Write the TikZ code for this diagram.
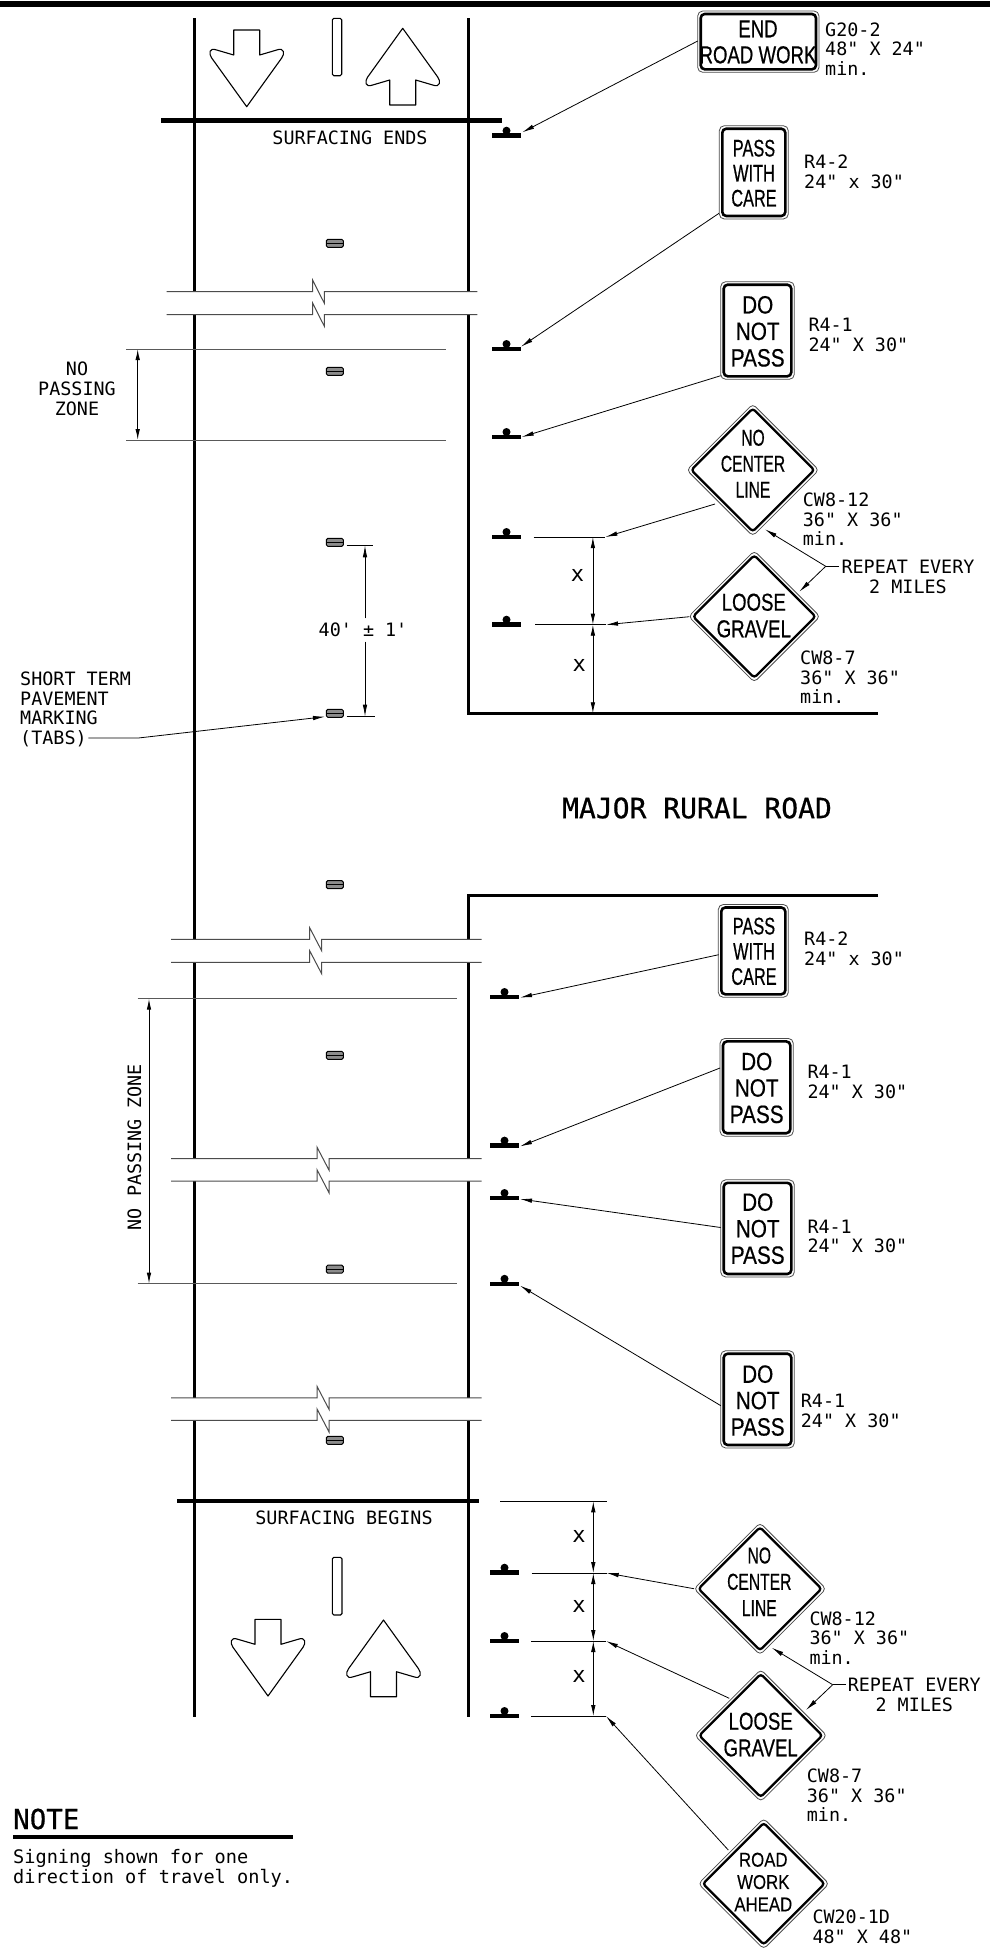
\documentclass[tikz,border=0pt]{standalone}
\usepackage{fontspec}
\usetikzlibrary{arrows.meta}
\newfontfamily\cadfont{DejaVu Sans Mono}
\newfontfamily\signN[FakeStretch=.68,FakeBold=.5]{Liberation Sans}
\newfontfamily\signM[FakeStretch=.76,FakeBold=.5]{Liberation Sans}
\newfontfamily\signW[FakeStretch=.83,FakeBold=.5]{Liberation Sans}
\newfontfamily\signT[FakeStretch=.84,FakeBold=.2]{Liberation Sans}
\newfontfamily\headfont[FakeBold=.6]{DejaVu Sans Mono}
\newcommand{\caprule}{\rule{0pt}{14pt}}
\newcommand{\signrule}{\rule{0pt}{20pt}}
\tikzset{
  road/.style={line width=3pt,black},
  endbar/.style={line width=4.5pt,black},
  brk/.style={line width=1pt,black!70,line join=miter},
  zone/.style={line width=1pt,black!65},
  thinln/.style={line width=.9pt,black},
  penmark/.style={line width=1.1pt,black},
  ar/.style={-{Latex[length=12pt,width=4.5pt]},line width=.8pt,black},
  dimline/.style={{Latex[length=11pt,width=4.5pt]}-{Latex[length=11pt,width=4.5pt]},line width=.8pt,black},
  lab/.style={inner sep=0pt,anchor=north west,align=left,yshift=7.3pt,font=\cadfont\fontsize{18.4}{19.4}\selectfont},
  labc/.style={inner sep=0pt,anchor=north,align=center,yshift=7.3pt,font=\cadfont\fontsize{18.4}{20}\selectfont},
  plain/.style={inner sep=0pt,font=\cadfont\fontsize{18.4}{20}\selectfont},
  xmark/.style={inner sep=0pt,font=\cadfont\fontsize{22}{24}\selectfont},
  signtext/.style={inner sep=0pt,anchor=north,align=center},
}
\newcommand{\post}[2]{%
  \draw[endbar] (#1-14.5,#2) -- (#1+14.5,#2);
  \fill[black] (#1,#2-5) circle (4pt);}
\newcommand{\pavetab}[1]{%
  \draw[line width=1pt,black,fill=black!45,rounded corners=1.5pt] (326.3,#1-4) rectangle (343.3,#1+4);
  \draw[line width=.8pt,black] (326.3,#1) -- (343.3,#1);}
\newcommand{\brkline}[5]{%
  \draw[brk] (#1,#5) -- (#2,#5) -- (#2,#5-11.5) -- (#3,#5+11.5) -- (#3,#5) -- (#4,#5);}
\newcommand{\rectsign}[4]{%
  \draw[line width=.8pt,black!70,rounded corners=5pt] (#1,#2) rectangle (#3,#4);
  \draw[line width=2.6pt,black,rounded corners=4pt] (#1+3,#2+3) rectangle (#3-3,#4-3);}
\newcommand{\diasign}[3]{%
  \draw[line width=.8pt,black!70,rounded corners=4pt] (#1,#2-#3) -- (#1+#3,#2) -- (#1,#2+#3) -- (#1-#3,#2) -- cycle;
  \draw[line width=2.3pt,black,rounded corners=3pt] (#1,#2-#3+4.5) -- (#1+#3-4.5,#2) -- (#1,#2+#3-4.5) -- (#1-#3+4.5,#2) -- cycle;}
\newcommand{\signlabel}[7]{%
  \node[signtext,yshift={(20-0.358*#3)*1pt},font=#2\fontsize{#3}{#4}\selectfont] (#1) at (#5,#6) {\signrule#7};}
\newcommand{\arrowshape}{%
  \draw[penmark,line join=round] (-13,0) -- (13,0) -- (13,25) -- (30,20) .. controls (38,17) and (38,24) .. (35,28)
     -- (0,76.7) -- (-35,28) .. controls (-38,24) and (-38,17) .. (-30,20) -- (-13,25) -- cycle;}
\begin{document}
\begin{tikzpicture}[x=1pt,y=-1pt]
\useasboundingbox (0,0) rectangle (990,1952);
\fill[white] (0,0) rectangle (990,1952);
\fill[black] (0,1) rectangle (990,7);

% road edges
\foreach \xx in {194.5,468} {
  \draw[road] (\xx,18) -- (\xx,291.7);
  \draw[road] (\xx,962.3) -- (\xx,1158.6);
  \draw[road] (\xx,1181.2) -- (\xx,1397.8);
  \draw[road] (\xx,1420.4) -- (\xx,1716.7);
}
\draw[road] (194.5,314.7) -- (194.5,939.3);
\draw[road,line join=miter] (468,314.7) -- (468,713.3) -- (878,713.3);
\draw[road,line join=miter] (878,895.5) -- (468,895.5) -- (468,939.3);

% end bars
\draw[endbar] (161,120.7) -- (502,120.7);
\draw[endbar,line width=4pt] (177.3,1500.7) -- (479,1500.7);
\node[labc] (ends) at (350,138) {\caprule SURFACING ENDS};
\node[labc] (begins) at (344,1517.7) {\caprule SURFACING BEGINS};

% pavement arrows and centre dashes
\begin{scope}[shift={(246.7,30)}]\arrowshape\end{scope}
\begin{scope}[shift={(402.7,105)},yscale=-1]\arrowshape\end{scope}
\begin{scope}[shift={(268,1619.3)}]\arrowshape\end{scope}
\begin{scope}[shift={(383.5,1696.7)},yscale=-1]\arrowshape\end{scope}
\draw[penmark,rounded corners=1.5pt] (332.3,18.3) rectangle (341.7,75.7);
\draw[penmark,rounded corners=1.5pt] (332.3,1557.3) rectangle (342,1615);

% tabs
\foreach \yy in {243.3,371.3,542.3,713.3,884.6,1055.3,1269.2,1440.3} {\pavetab{\yy}}

% breaks
\brkline{166.7}{312.7}{324.3}{477.3}{291.7}
\brkline{166.7}{312.7}{324.3}{477.3}{314.7}
\brkline{171}{309.7}{321.7}{481.7}{939.3}
\brkline{171}{309.7}{321.7}{481.7}{962.3}
\brkline{171}{317}{329}{481.7}{1158.6}
\brkline{171}{317}{329}{481.7}{1181.2}
\brkline{171}{317}{329}{481.7}{1397.8}
\brkline{171}{317}{329}{481.7}{1420.4}

% upper no passing zone
\draw[zone] (126,349) -- (445.7,349);
\draw[zone] (126,440) -- (445.7,440);
\coordinate (zt) at (137.7,349);
\coordinate (zb) at (137.7,440);
\draw[dimline,line width=1pt] (zt) -- (zb);
\node[labc] (npz) at (77,368.3) {\caprule NO\\PASSING\\ZONE};

% lower no passing zone
\draw[zone] (137.7,998.6) -- (457,998.6);
\draw[zone] (137.7,1283.7) -- (457,1283.7);
\coordinate (zt2) at (149,998.6);
\coordinate (zb2) at (149,1283.7);
\draw[dimline,line width=1pt] (zt2) -- (zb2);
\node[plain,rotate=90] (npz2) at (134.5,1147) {NO PASSING ZONE};

% 40 ft dimension
\draw[thinln] (346.7,545.3) -- (372.7,545.3);
\draw[thinln] (346.7,716.7) -- (375,716.7);
\node[plain] (forty) at (363,630) {40' ± 1'};
\coordinate (ft) at (365,545.3);
\coordinate (fb) at (365,716.7);
\draw[ar] (365,618.3) -- (ft);
\draw[ar] (365,641.7) -- (fb);

% tabs label
\node[lab] (tabs) at (20,679) {\caprule SHORT TERM\\PAVEMENT\\MARKING\\(TABS)};
\coordinate (tl) at (88.3,738);
\coordinate (tm) at (138.3,738);
\coordinate (tt) at (325,716.7);
\draw[ar] (tl) -- (tm) -- (tt);

% major road
\node[inner sep=0pt,font=\headfont\fontsize{28}{30}\selectfont] (major) at (697,808) {MAJOR RURAL ROAD};

% posts
\foreach \yy in {135.7,349,437,537,624.7} {\post{506.5}{\yy}}
\foreach \yy in {997,1145.6,1198,1283.8,1572.7,1641,1716} {\post{504.5}{\yy}}

% signs upper
\rectsign{697.7}{11}{819}{72.3}
\signlabel{s1}{\signM}{24.5}{26}{758}{28.3}{END\\ROAD WORK}
\node[lab] (l1) at (825,29.3) {\caprule G20-2\\48" X 24"\\min.};
\rectsign{719.3}{125.7}{788.3}{219}
\signlabel{s2}{\signN}{24}{25}{754}{147.7}{PASS\\WITH\\CARE}
\node[lab] (l2) at (804,161.7) {\caprule R4-2\\24" x 30"};
\rectsign{720.7}{281.7}{794.3}{379.3}
\signlabel{s3}{\signW}{25}{26.5}{757.7}{304.3}{DO\\NOT\\PASS}
\node[lab] (l3) at (808.3,325) {\caprule R4-1\\24" X 30"};
\diasign{752.8}{470}{66}
\signlabel{s4}{\signN}{23}{26}{753}{437.3}{NO\\CENTER\\LINE}
\node[lab] (l4) at (802.7,500) {\caprule CW8-12\\36" X 36"\\min.};
\diasign{754.3}{616.5}{65.7}
\signlabel{s5}{\signM}{24.5}{26.6}{753.8}{601.7}{LOOSE\\GRAVEL}
\node[lab] (l5) at (800,657.7) {\caprule CW8-7\\36" X 36"\\min.};
\node[labc,anchor=north] (rep1) at (908,566.7) {\caprule REPEAT EVERY\\2 MILES};

% connectors upper
\coordinate (a1) at (697.7,41);   \coordinate (b1) at (522.3,132.3);
\coordinate (a2) at (719,213.3);  \coordinate (b2) at (521,346.7);
\coordinate (a3) at (720.7,375.7);\coordinate (b3) at (521.7,437);
\coordinate (a4) at (715,504);    \coordinate (b4) at (605.4,537);
\coordinate (a5) at (689.3,616.7);\coordinate (b5) at (606,624.7);
\draw[ar] (a1) -- (b1);
\draw[ar] (a2) -- (b2);
\draw[ar] (a3) -- (b3);
\draw[ar] (a4) -- (b4);
\draw[ar] (a5) -- (b5);
\coordinate (c4) at (533.7,537);  \draw[thinln] (c4) -- (b4);
\coordinate (c5) at (535,624.7);  \draw[thinln] (c5) -- (b5);
\coordinate (d1) at (592.9,537); \coordinate (d2) at (592.9,624.7); \coordinate (d3) at (592.9,713.3);
\draw[dimline] (d1) -- (d2);
\draw[dimline] (d2) -- (d3);
\node[xmark] (x1) at (577.6,575.7) {x};
\node[xmark] (x2) at (579.3,665.7) {x};
\coordinate (r1) at (839,566.3);  \coordinate (r2) at (825.7,566.3);
\coordinate (r3) at (765,529.3);  \coordinate (r4) at (799.3,591.7);
\draw[thinln] (r1) -- (r2);
\draw[ar] (r2) -- (r3);
\draw[ar] (r2) -- (r4);

% signs lower
\rectsign{718.3}{904.5}{788.3}{997.3}
\signlabel{s6}{\signN}{24}{25.2}{754}{925.6}{PASS\\WITH\\CARE}
\node[lab] (l6) at (804,939) {\caprule R4-2\\24" x 30"};
\rectsign{720}{1038.4}{793.3}{1136.2}
\signlabel{s7}{\signW}{25}{26.4}{756.7}{1061}{DO\\NOT\\PASS}
\node[lab] (l7) at (807.3,1071.8) {\caprule R4-1\\24" X 30"};
\rectsign{720.7}{1179.8}{794.3}{1277}
\signlabel{s8}{\signW}{25}{26.5}{757.7}{1201.6}{DO\\NOT\\PASS}
\node[lab] (l8) at (807.3,1226.4) {\caprule R4-1\\24" X 30"};
\rectsign{720.7}{1350.7}{794.3}{1448}
\signlabel{s9}{\signW}{25}{26.4}{757.7}{1373.6}{DO\\NOT\\PASS}
\node[lab] (l9) at (800.7,1400.9) {\caprule R4-1\\24" X 30"};
\coordinate (a6) at (718.7,954.7);  \coordinate (b6) at (520,997.6);
\coordinate (a7) at (720,1068);     \coordinate (b7) at (520,1146.4);
\coordinate (a8) at (720.7,1227.5); \coordinate (b8) at (520,1199);
\coordinate (a9) at (720.7,1405.6); \coordinate (b9) at (520,1285.6);
\draw[ar] (a6) -- (b6);
\draw[ar] (a7) -- (b7);
\draw[ar] (a8) -- (b8);
\draw[ar] (a9) -- (b9);

% bottom diamonds
\diasign{760}{1588.8}{66}
\signlabel{s10}{\signN}{23}{26.3}{759.3}{1555}{NO\\CENTER\\LINE}
\node[lab] (l10) at (809.3,1618.3) {\caprule CW8-12\\36" X 36"\\min.};
\diasign{760.8}{1735.5}{66}
\signlabel{s11}{\signM}{24.5}{26.6}{760.7}{1720.7}{LOOSE\\GRAVEL}
\node[lab] (l11) at (806.7,1775.7) {\caprule CW8-7\\36" X 36"\\min.};
\diasign{763.7}{1883.7}{65.3}
\signlabel{s12}{\signT}{20}{22.3}{763.3}{1859.3}{ROAD\\WORK\\AHEAD}
\node[lab] (l12) at (812.3,1916.7) {\caprule CW20-1D\\48" X 48"};
\node[labc,anchor=north] (rep2) at (914.3,1685) {\caprule REPEAT EVERY\\2 MILES};

\coordinate (top) at (500,1501.3);  \coordinate (topr) at (606.7,1501.3);
\draw[thinln] (top) -- (topr);
\coordinate (g1) at (531.7,1573);  \coordinate (h1) at (606.7,1573);
\coordinate (g2) at (531,1641);    \coordinate (h2) at (606,1641);
\coordinate (g3) at (531,1716);    \coordinate (h3) at (606,1716);
\draw[thinln] (g1) -- (h1);
\draw[thinln] (g2) -- (h2);
\draw[thinln] (g3) -- (h3);
\coordinate (e0) at (593.3,1501.3); \coordinate (e1) at (593.3,1573);
\coordinate (e2) at (593.3,1641);   \coordinate (e3) at (593.3,1716);
\draw[dimline] (e0) -- (e1);
\draw[dimline] (e1) -- (e2);
\draw[dimline] (e2) -- (e3);
\node[xmark] (x3) at (579,1536) {x};
\node[xmark] (x4) at (579,1606) {x};
\node[xmark] (x5) at (579,1676.7) {x};
\coordinate (a10) at (694,1588.7);  \draw[ar] (a10) -- (h1);
\coordinate (a11) at (729.3,1698.3);\draw[ar] (a11) -- (h2);
\coordinate (a12) at (728.3,1850);  \draw[ar] (a12) -- (h3);
\coordinate (q1) at (845.7,1684.7); \coordinate (q2) at (832.7,1684.7);
\coordinate (q3) at (771.7,1647.7); \coordinate (q4) at (806,1710);
\draw[thinln] (q1) -- (q2);
\draw[ar] (q2) -- (q3);
\draw[ar] (q2) -- (q4);

% note
\node[inner sep=0pt,anchor=west,font=\headfont\fontsize{27.5}{30}\selectfont] (note) at (13,1819) {NOTE};
\draw[line width=4pt,black] (13,1837.3) -- (293,1837.3);
\node[lab,font=\cadfont\fontsize{18.6}{20}\selectfont] (notet) at (13,1856.7) {\caprule Signing shown for one\\direction of travel only.};
\end{tikzpicture}
\end{document}
